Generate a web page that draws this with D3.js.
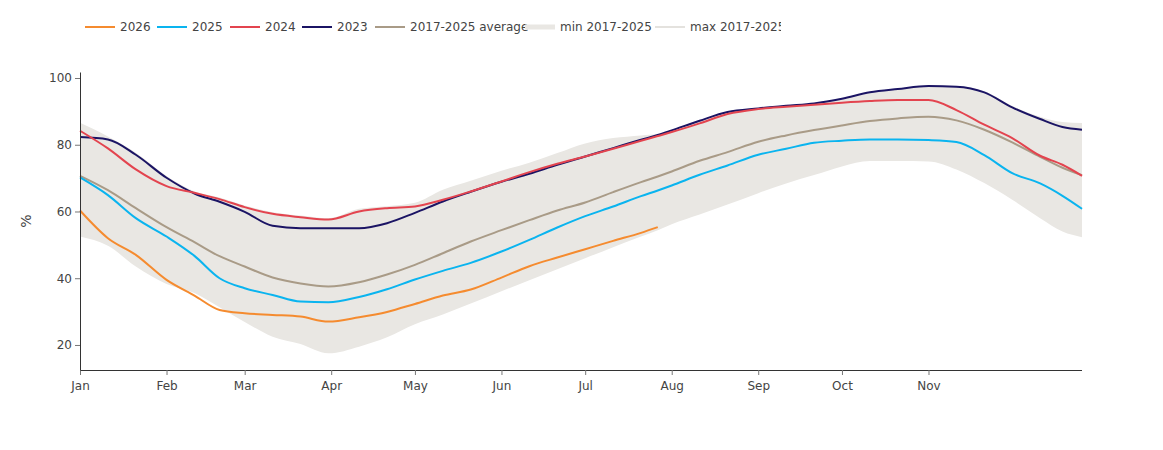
<!DOCTYPE html>
<html>
<head>
<meta charset="utf-8">
<script src="https://cdn.jsdelivr.net/npm/d3@7"></script>
<style>
  body { margin: 0; background: #fff; }
  svg text { font-family: "DejaVu Sans", Verdana, sans-serif; }
</style>
</head>
<body>
<svg id="storageChart" width="1163" height="450"></svg>
<script>
// day of year (0 = Jan 1) for every sampled point
const days = [0, 10, 20, 31, 41, 50, 59, 69, 79, 89, 100, 110, 120, 130, 140, 151, 161, 171, 181, 191,
  201, 207, 212, 222, 232, 243, 253, 263, 273, 283, 293, 304, 314, 324, 334, 344, 352, 359];

// filling level in %, one value per day above (2026 stops in late July)
const values2026 = [60.3, 52.0, 47.0, 39.5, 34.8, 30.5, 29.5, 29.0, 28.5, 27.0, 28.3, 29.9, 32.3, 34.8, 36.6, 40.2,
  43.6, 46.2, 48.7, 51.2, 53.6, 55.3];
const values2025 = [70.2, 64.9, 58.0, 52.5, 46.7, 40.0, 37.0, 35.0, 33.0, 32.8, 34.4, 36.7, 39.6, 42.2, 44.6, 48.0,
  51.5, 55.2, 58.6, 61.5, 64.6, 66.3, 67.8, 71.0, 73.8, 77.0, 78.8, 80.6, 81.2, 81.6, 81.6, 81.4, 80.8, 76.9, 71.5,
  68.4, 64.7, 60.8];
const values2024 = [84.2, 78.9, 72.6, 67.6, 65.6, 63.7, 61.3, 59.3, 58.3, 57.6, 60.0, 61.0, 61.5, 63.5, 66.0, 69.0,
  71.8, 74.3, 76.5, 78.8, 81.2, 82.6, 83.8, 86.4, 89.2, 90.7, 91.4, 92.0, 92.6, 93.1, 93.4, 93.4, 90.4, 86.0, 82.0,
  76.7, 74.0, 70.7];
const values2023 = [82.3, 81.6, 77.0, 70.1, 65.4, 62.9, 59.9, 55.7, 55.0, 55.0, 55.0, 56.5, 59.6, 63.0, 65.9, 68.9,
  71.3, 74.0, 76.5, 79.0, 81.5, 82.9, 84.3, 87.2, 89.8, 90.9, 91.7, 92.4, 93.8, 95.7, 96.7, 97.6, 97.4, 95.7, 91.2,
  87.7, 85.3, 84.5];
const valuesAverage = [70.7, 66.4, 61.0, 55.3, 50.8, 46.6, 43.5, 40.2, 38.4, 37.5, 38.8, 41.1, 44.0, 47.5, 51.0, 54.4,
  57.4, 60.3, 62.7, 65.8, 68.8, 70.5, 72.0, 75.2, 77.8, 80.9, 82.8, 84.4, 85.8, 87.1, 87.9, 88.4, 87.3, 84.5, 80.7,
  76.4, 73.1, 70.9];
const valuesMin = [52.5, 49.7, 43.5, 38.3, 35.6, 31.3, 26.9, 22.5, 20.3, 17.5, 19.5, 22.3, 26.2, 29.1, 32.4, 36.1,
  39.4, 42.7, 46.0, 49.3, 52.5, 54.4, 56.2, 59.1, 62.1, 65.5, 68.4, 70.9, 73.5, 75.1, 75.1, 75.0, 72.6, 68.5, 63.5,
  58.0, 54.0, 52.3];
const valuesMax = [86.6, 82.5, 77.6, 70.6, 66.0, 64.2, 61.8, 59.8, 58.8, 58.0, 60.8, 61.6, 62.6, 66.5, 69.2, 72.2,
  74.6, 77.5, 80.4, 82.0, 82.8, 83.3, 84.5, 87.3, 89.9, 91.0, 91.8, 92.5, 94.0, 95.8, 96.8, 97.7, 97.6, 96.0, 91.6,
  88.4, 86.8, 86.5];

const yTicks = [20, 40, 60, 80, 100];
const seriesNames = ['2026', '2025', '2024', '2023', '2017-2025 average'];
const seriesValues = [values2026, values2025, values2024, values2023, valuesAverage];
const seriesColors = ['#f58b2f', '#0ab4ef', '#e3444f', '#1b1464', '#a99b87'];
const bandColor = '#e9e7e3';

const svg = d3.select("svg#storageChart");
const margin = {left: 80, right: 81, top: 72, bottom: 80};
const width = 1163 - margin.left - margin.right;
const height = 450 - margin.top - margin.bottom;

// a non leap year as reference, only month and day are shown
const toDate = d => new Date(2021, 0, 1 + d);

const x = d3.scaleTime()
    .domain([toDate(0), toDate(359.3)])
    .range([margin.left, margin.left + width]);
const y = d3.scaleLinear()
    .domain([12.5, 101.8])
    .range([margin.top + height, margin.top]);

// min/max band
const bandData = days.map((d, i) => ({day: d, lo: valuesMin[i], hi: valuesMax[i]}));
svg.append("path")
    .datum(bandData)
    .attr("fill", bandColor)
    .attr("d", d3.area()
        .x(p => x(toDate(p.day)))
        .y0(p => y(p.lo))
        .y1(p => y(p.hi))
        .curve(d3.curveMonotoneX));

// year lines, drawn so that 2026 ends up on top
const line = d3.line()
    .x(p => x(toDate(p[0])))
    .y(p => y(p[1]))
    .curve(d3.curveMonotoneX);

for (let k = seriesValues.length - 1; k >= 0; k--) {
  const pts = seriesValues[k].map((v, i) => [days[i], v]);
  svg.append("path")
      .datum(pts)
      .attr("fill", "none")
      .attr("stroke", seriesColors[k])
      .attr("stroke-width", 2)
      .attr("stroke-linejoin", "round")
      .attr("d", line);
}

// axes
const xAxis = svg.append("g")
    .attr("transform", `translate(0,${margin.top + height})`)
    .call(d3.axisBottom(x)
        .tickValues(d3.timeMonth.range(toDate(0), toDate(334)))
        .tickFormat(d3.timeFormat("%b"))
        .tickSize(5)
        .tickSizeOuter(0)
        .tickPadding(6));

const yAxis = svg.append("g")
    .attr("transform", `translate(${margin.left},0)`)
    .call(d3.axisLeft(y)
        .tickValues(yTicks)
        .tickSize(5)
        .tickSizeOuter(0)
        .tickPadding(3));

[xAxis, yAxis].forEach(g => {
  g.select(".domain").attr("stroke", "#333").attr("stroke-width", 1);
  g.selectAll(".tick line").attr("stroke", "#777");
  g.selectAll(".tick text").attr("fill", "#444").style("font-size", "12px");
});
// x axis line runs over the whole plot width
xAxis.select(".domain").attr("d", `M${margin.left},0.5H${margin.left + width}`);

svg.append("text")
    .attr("transform", `translate(31,${margin.top + height / 2}) rotate(-90)`)
    .attr("text-anchor", "middle")
    .attr("fill", "#444")
    .style("font-size", "14px")
    .text("%");

// legend, cut off on the right like in the original
svg.append("clipPath").attr("id", "legendClip")
  .append("rect").attr("x", 0).attr("y", 0).attr("width", 781).attr("height", 60);

const legend = svg.append("g").attr("clip-path", "url(#legendClip)");
const legendX = [85, 157, 230, 302, 375, 525, 655];
const legendY = 27;

const legendItems = seriesNames.map((n, i) => ({name: n, color: seriesColors[i], kind: 'line'}));
legendItems.push({name: 'min 2017-2025', color: bandColor, kind: 'fill'});
legendItems.push({name: 'max 2017-2025', color: '#e4e2de', kind: 'line'});

legendItems.forEach((item, i) => {
  const g = legend.append("g").attr("transform", `translate(${legendX[i]},${legendY})`);
  if (item.kind === 'fill') {
    g.append("rect")
        .attr("x", 0).attr("y", -2.5)
        .attr("width", 30).attr("height", 5)
        .attr("fill", item.color);
  } else {
    g.append("line")
        .attr("x1", 0).attr("x2", 30)
        .attr("stroke", item.color)
        .attr("stroke-width", 2);
  }
  g.append("text")
      .attr("x", 35)
      .attr("dy", "0.35em")
      .attr("fill", "#444")
      .style("font-size", "12px")
      .text(item.name);
});
</script>
</body>
</html>
